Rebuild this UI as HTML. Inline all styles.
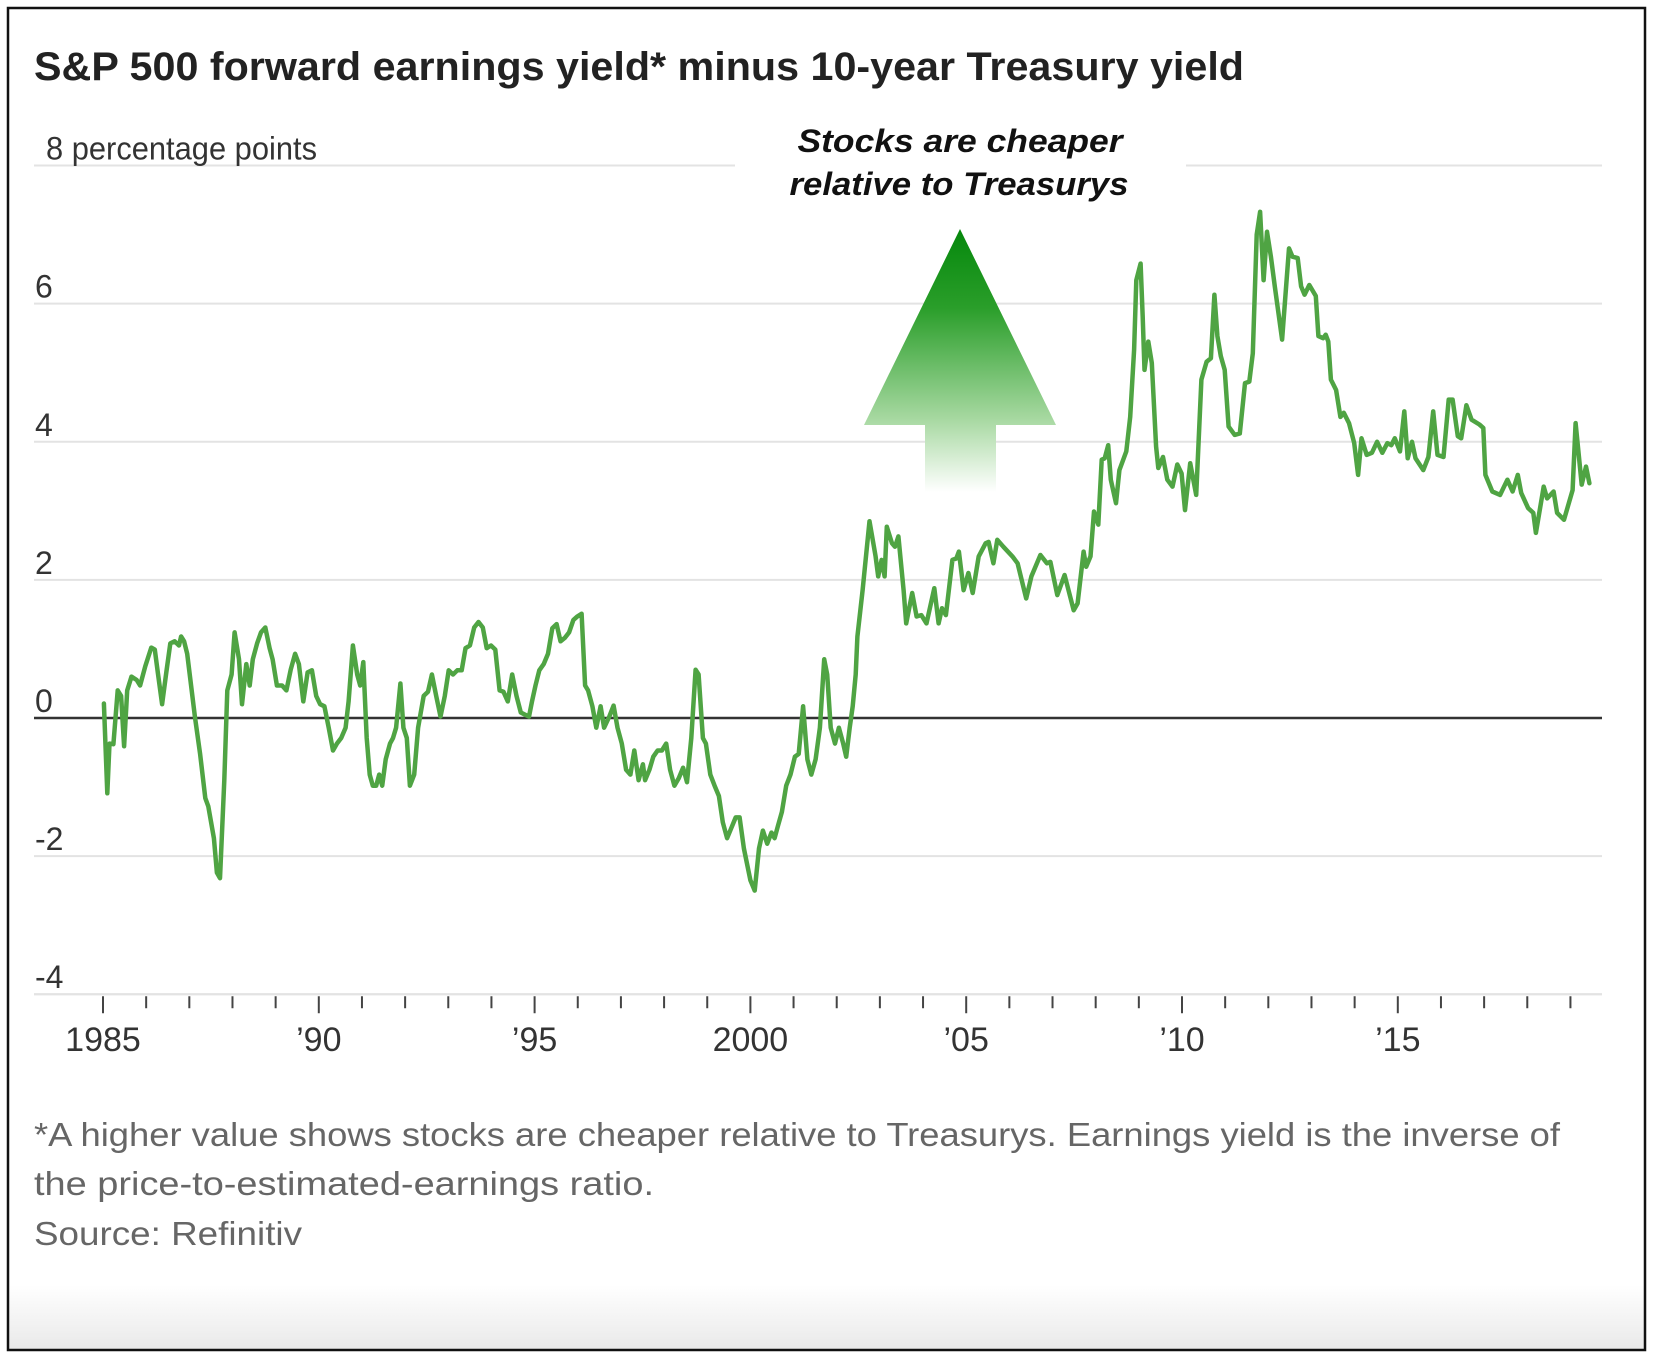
<!DOCTYPE html>
<html>
<head>
<meta charset="utf-8">
<style>
  html,body{margin:0;padding:0;background:#fff;}
  svg{display:block;font-family:"Liberation Sans",sans-serif;}
</style>
</head>
<body>
<svg id="chart" width="1653" height="1357" viewBox="0 0 1653 1357" xmlns="http://www.w3.org/2000/svg">
  <defs>
    <linearGradient id="arrowGrad" gradientUnits="userSpaceOnUse" x1="0" y1="229" x2="0" y2="492">
      <stop offset="0" stop-color="#05880c"/>
      <stop offset="0.3" stop-color="#2a9e2a"/>
      <stop offset="0.72" stop-color="#a6d8a0"/>
      <stop offset="1" stop-color="#ffffff"/>
    </linearGradient>
    <linearGradient id="bottomFade" x1="0" y1="0" x2="0" y2="1">
      <stop offset="0" stop-color="#ffffff"/>
      <stop offset="1" stop-color="#e9e9e9"/>
    </linearGradient>
  </defs>
  <rect x="0" y="0" width="1653" height="1357" fill="#fff"/>
  <rect x="8" y="1285" width="1637" height="65" fill="url(#bottomFade)"/>
  <rect x="8" y="8" width="1637" height="1342" fill="none" stroke="#111" stroke-width="2.5"/>

  <text x="34" y="80" font-size="40" font-weight="bold" fill="#222" textLength="1210" lengthAdjust="spacingAndGlyphs">S&amp;P 500 forward earnings yield* minus 10-year Treasury yield</text>

  <g id="grid"></g>
  <g id="yLabels"></g>
  <g id="xAxis"></g>

  <path d="M960,229 L1056,425 L996,425 L996,492 L925,492 L925,425 L864,425 Z" fill="url(#arrowGrad)"/>
  <text x="960" y="152" text-anchor="middle" font-size="32" font-weight="bold" font-style="italic" fill="#111" textLength="325" lengthAdjust="spacingAndGlyphs">Stocks are cheaper</text>
  <text x="959" y="195" text-anchor="middle" font-size="32" font-weight="bold" font-style="italic" fill="#111" textLength="339" lengthAdjust="spacingAndGlyphs">relative to Treasurys</text>

  <g id="series"></g>

  <text x="34" y="1146" font-size="33" fill="#666" textLength="1526" lengthAdjust="spacingAndGlyphs">*A higher value shows stocks are cheaper relative to Treasurys. Earnings yield is the inverse of</text>
  <text x="34" y="1195" font-size="33" fill="#666" textLength="620" lengthAdjust="spacingAndGlyphs">the price-to-estimated-earnings ratio.</text>
  <text x="34" y="1245" font-size="33" fill="#666" textLength="268" lengthAdjust="spacingAndGlyphs">Source: Refinitiv</text>
</svg>
<script>
const yTicks = [-4, -2, 0, 2, 4, 6, 8];
const yTickLabels = ["-4", "-2", "0", "2", "4", "6", "8 percentage points"];
const xTickYears = [1985,1986,1987,1988,1989,1990,1991,1992,1993,1994,1995,1996,1997,1998,1999,2000,2001,2002,2003,2004,2005,2006,2007,2008,2009,2010,2011,2012,2013,2014,2015,2016,2017,2018,2019];
const xLabelYears = [1985, 1990, 1995, 2000, 2005, 2010, 2015];
const xLabels = ["1985", "\u201990", "\u201995", "2000", "\u201905", "\u201910", "\u201915"];
const yearsAfter1985 = [0.02,0.10,0.15,0.24,0.34,0.42,0.49,0.56,0.66,0.78,0.86,0.98,1.12,1.20,1.27,1.37,1.47,1.56,1.66,1.76,1.81,1.88,1.95,2.13,2.25,2.37,2.44,2.57,2.64,2.71,2.81,2.88,2.98,3.05,3.15,3.22,3.32,3.40,3.47,3.57,3.66,3.76,3.86,3.93,4.03,4.15,4.25,4.35,4.45,4.54,4.64,4.74,4.84,4.94,5.03,5.13,5.23,5.33,5.42,5.52,5.62,5.69,5.79,5.89,5.96,6.03,6.11,6.18,6.25,6.33,6.40,6.47,6.55,6.65,6.72,6.79,6.89,6.96,7.04,7.11,7.21,7.30,7.43,7.53,7.62,7.72,7.82,7.92,8.01,8.11,8.21,8.31,8.40,8.50,8.60,8.70,8.80,8.89,8.99,9.09,9.19,9.28,9.38,9.48,9.58,9.68,9.77,9.87,9.94,10.02,10.11,10.21,10.31,10.41,10.51,10.60,10.70,10.80,10.90,10.99,11.09,11.17,11.24,11.34,11.43,11.53,11.61,11.73,11.83,11.92,12.02,12.12,12.22,12.31,12.41,12.51,12.56,12.66,12.75,12.85,12.95,13.05,13.14,13.24,13.34,13.44,13.53,13.63,13.73,13.80,13.90,13.97,14.07,14.17,14.27,14.36,14.46,14.56,14.66,14.75,14.85,15.00,15.10,15.20,15.29,15.39,15.49,15.56,15.64,15.73,15.83,15.93,16.03,16.12,16.22,16.32,16.41,16.51,16.61,16.71,16.78,16.86,16.96,17.05,17.15,17.22,17.30,17.37,17.44,
17.48,17.60,17.76,17.90,17.96,18.04,18.11,18.16,18.28,18.35,18.43,18.55,18.61,18.75,18.85,18.96,19.08,19.26,19.36,19.44,19.53,19.68,19.77,19.83,19.94,20.05,20.15,20.29,20.45,20.52,20.63,20.72,20.86,21.07,21.19,21.39,21.51,21.72,21.87,21.95,22.11,22.28,22.49,22.58,22.72,22.78,22.88,22.96,23.06,23.14,23.21,23.29,23.35,23.47,23.55,23.71,23.80,23.89,23.94,24.04,24.09,24.13,24.22,24.30,24.40,24.45,24.56,24.66,24.78,24.89,24.99,25.07,25.19,25.33,25.45,25.57,25.67,25.75,25.82,25.90,25.99,26.08,26.22,26.34,26.46,26.56,26.64,26.73,26.81,26.89,26.97,27.06,27.15,27.32,27.48,27.56,27.68,27.76,27.84,27.95,28.10,28.16,28.27,28.33,28.39,28.45,28.57,28.67,28.75,28.87,28.99,29.08,29.16,29.28,29.40,29.52,29.64,29.76,29.85,29.93,30.05,30.15,30.23,30.33,30.41,30.59,30.71,30.82,30.92,31.06,31.18,31.27,31.39,31.47,31.59,31.71,31.89,31.98,32.03,32.19,32.37,32.54,32.66,32.78,32.86,33.02,33.14,33.20,33.38,33.46,33.61,33.69,33.85,34.05,34.12,34.26,34.36,34.44];
const spreadValues = [0.21,-1.09,-0.37,-0.38,0.40,0.32,-0.41,0.40,0.60,0.55,0.47,0.75,1.02,0.99,0.66,0.20,0.67,1.08,1.11,1.05,1.18,1.11,0.93,0.02,-0.52,-1.16,-1.28,-1.74,-2.24,-2.32,-0.90,0.40,0.63,1.24,0.85,0.20,0.78,0.47,0.85,1.08,1.24,1.31,1.01,0.85,0.47,0.47,0.40,0.70,0.93,0.78,0.24,0.66,0.69,0.32,0.20,0.17,-0.14,-0.47,-0.37,-0.29,-0.14,0.24,1.05,0.63,0.47,0.81,-0.29,-0.82,-0.98,-0.98,-0.82,-0.98,-0.60,-0.37,-0.29,-0.14,0.50,-0.14,-0.29,-0.98,-0.82,-0.14,0.32,0.38,0.63,0.32,0.02,0.32,0.69,0.63,0.69,0.69,1.01,1.05,1.31,1.39,1.31,1.01,1.05,0.99,0.40,0.38,0.24,0.63,0.32,0.08,0.05,0.02,0.24,0.47,0.69,0.78,0.93,1.30,1.36,1.11,1.16,1.24,1.42,1.47,1.51,0.47,0.40,0.17,-0.14,0.17,-0.14,0.02,0.18,-0.14,-0.37,-0.75,-0.82,-0.47,-0.90,-0.67,-0.90,-0.75,-0.56,-0.47,-0.47,-0.37,-0.75,-0.98,-0.87,-0.72,-0.93,-0.29,0.70,0.63,-0.29,-0.37,-0.82,-0.98,-1.13,-1.51,-1.74,-1.59,-1.44,-1.44,-1.89,-2.35,-2.50,-1.89,-1.63,-1.82,-1.66,-1.74,-1.56,-1.36,-0.98,-0.82,-0.56,-0.52,0.17,-0.60,-0.82,-0.60,-0.14,0.85,0.63,-0.14,-0.37,-0.14,-0.37,-0.56,-0.14,0.17,0.63,
1.18,1.85,2.85,2.34,2.05,2.29,2.05,2.77,2.53,2.48,2.63,1.85,1.37,1.81,1.47,1.49,1.37,1.88,1.37,1.59,1.49,2.29,2.31,2.41,1.85,2.10,1.81,2.34,2.53,2.55,2.24,2.58,2.48,2.34,2.24,1.73,2.05,2.36,2.24,2.26,1.78,2.07,1.56,1.66,2.41,2.19,2.34,2.99,2.80,3.74,3.76,3.95,3.45,3.11,3.59,3.86,4.36,5.33,6.34,6.58,5.81,5.04,5.45,5.14,3.93,3.62,3.78,3.45,3.35,3.67,3.54,3.01,3.69,3.23,4.90,5.16,5.21,6.13,5.53,5.24,5.04,4.22,4.10,4.12,4.85,4.87,5.28,7.00,7.33,6.34,7.04,6.68,6.25,5.48,6.80,6.68,6.66,6.25,6.13,6.27,6.11,5.53,5.50,5.55,5.45,4.90,4.75,4.36,4.42,4.27,3.98,3.52,4.05,3.81,3.84,4.00,3.84,3.98,3.95,4.05,3.86,4.44,3.76,4.00,3.76,3.59,3.78,4.44,3.81,3.78,4.61,4.61,4.08,4.05,4.53,4.32,4.25,4.20,3.52,3.28,3.23,3.45,3.28,3.52,3.26,3.04,2.97,2.68,3.35,3.18,3.28,2.97,2.87,3.30,4.27,3.38,3.64,3.40];

const NS = "http://www.w3.org/2000/svg";
const X0 = 103, PX_PER_YEAR = 43.16, Y0 = 718, PX_PER_UNIT = 69.06;
const xScale = yr => X0 + (yr - 1985) * PX_PER_YEAR;
const yScale = v => Y0 - v * PX_PER_UNIT;
function mk(tag, attrs, parent) {
  const el = document.createElementNS(NS, tag);
  for (const k in attrs) el.setAttribute(k, attrs[k]);
  parent.appendChild(el);
  return el;
}

const grid = document.getElementById("grid");
const yLab = document.getElementById("yLabels");
yTicks.forEach((v, i) => {
  const y = yScale(v);
  if (v === 0) return;
  if (v === 8) {
    const a = mk("line", {x1: 34, x2: 735, y1: y, y2: y, stroke: "#e3e3e3", "stroke-width": 2}, grid);
    
    
    const b = mk("line", {x1: 1186, x2: 1602, y1: y, y2: y, stroke: "#e3e3e3", "stroke-width": 2}, grid);
    
    
  } else {
    const g = mk("line", {x1: 34, x2: 1602, y1: y, y2: y, stroke: "#e3e3e3", "stroke-width": 2}, grid);
    
    
  }
});
yTicks.forEach((v, i) => {
  const y = yScale(v);
  const t = mk("text", {x: v === 8 ? 46 : 35, y: y - 6, "font-size": 32, fill: "#333"}, yLab);
  if (v === 8) { t.setAttribute("textLength", 271); t.setAttribute("lengthAdjust", "spacingAndGlyphs"); }
  t.textContent = yTickLabels[i];
  
  
});

const xa = document.getElementById("xAxis");
const zl = mk("line", {x1: 34, x2: 1602, y1: yScale(0), y2: yScale(0), stroke: "#333", "stroke-width": 2.5}, xa);


const bl = mk("line", {x1: 34, x2: 1602, y1: yScale(-4), y2: yScale(-4), stroke: "#e3e3e3", "stroke-width": 2}, xa);


xTickYears.forEach(yr => {
  const major = (yr % 5 === 0);
  const x = xScale(yr);
  const tk = mk("line", {x1: x, x2: x, y1: yScale(-4) + 2, y2: yScale(-4) + (major ? 19 : 14), stroke: "#444", "stroke-width": 2}, xa);
  
  
});
xLabelYears.forEach((yr, i) => {
  const t = mk("text", {x: xScale(yr), y: 1051, "font-size": 34, fill: "#333", "text-anchor": "middle"}, xa);
  t.textContent = xLabels[i];
  
  
});

const series = document.getElementById("series");
const d = yearsAfter1985.map((o, i) => (i ? "L" : "M") + xScale(1985 + o).toFixed(1) + "," + yScale(spreadValues[i]).toFixed(1)).join(" ");
const line = mk("path", {d: d, fill: "none", stroke: "#4fa443", "stroke-width": 4.5, "stroke-linejoin": "round", "stroke-linecap": "round"}, series);


</script>
</body>
</html>
